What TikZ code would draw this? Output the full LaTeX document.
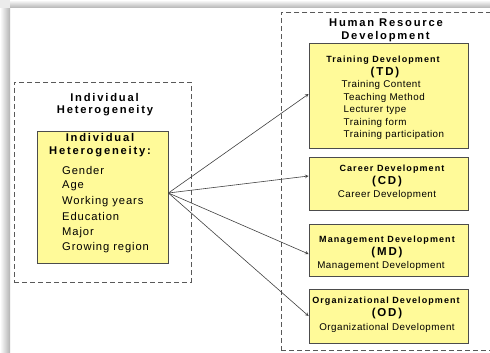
\documentclass[tikz,border=0pt]{standalone}
\usepackage{fontspec}
\setmainfont{Liberation Sans}
\newfontfamily\itemfont[LetterSpace=5]{Liberation Sans}
\newfontfamily\bigitemfont[LetterSpace=8]{Liberation Sans}
\newfontfamily\headfont[LetterSpace=12]{Liberation Sans}
\newfontfamily\titlefont[LetterSpace=16]{Liberation Sans}

\begin{document}
\begin{tikzpicture}[x=1pt, y=-1pt, >=stealth,
    dashbox/.style={draw=black!65, dash pattern=on 5pt off 3pt, line width=0.7pt, inner sep=0pt},
    ybox/.style={draw=black!70, fill=yellow!40, line width=0.8pt, inner sep=0pt},
    item/.style={anchor=west, inner sep=0pt, font=\itemfont\fontsize{9.8}{11}\selectfont},
    bigitem/.style={anchor=west, inner sep=0pt, font=\bigitemfont\fontsize{11.2}{13}\selectfont},
    head/.style={inner sep=0pt, font=\headfont\bfseries\fontsize{9}{11}\selectfont},
    abbr/.style={inner sep=0pt, font=\titlefont\bfseries\fontsize{11.5}{13}\selectfont},
    title/.style={inner sep=0pt, font=\titlefont\bfseries\fontsize{11.2}{13}\selectfont},
    link/.style={->, draw=black!75, line width=0.6pt}]
    \useasboundingbox (0,0) rectangle (490,353);

    % page shadow
    \shade[left color=white, right color=black!30] (0,8) rectangle (10,353);
    \shade[top color=white, bottom color=black!30] (10,0) rectangle (490,8);
    \fill[black!8] (0,0) rectangle (10,8);

    % Individual heterogeneity
    \node[dashbox, minimum width=177, minimum height=200] (ihbox) at (102.5,182) {};
    \node[title] (iht1) at (104.5,97) {Individual};
    \node[title] (iht2) at (105,111) {Heterogeneity};
    \node[ybox, minimum width=131, minimum height=132] (ih) at (102.5,197) {};
    \node[title] (ihh1) at (100,137.5) {Individual};
    \node[title] (ihh2) at (100,152) {Heterogeneity:};
    \foreach \t [count=\i] in {Gender, Age, Working years, Education, Major, Growing region}
        \node[bigitem] (ih\i) at (62,154.4+15.6*\i) {\t};

    % Human resource development
    \node[dashbox, minimum width=220, minimum height=338, anchor=north west] (hrd) at (281,12) {};
    \node[title] (hrdt1) at (386,23) {Human Resource};
    \node[title] (hrdt2) at (385.5,37) {Development};

    % TD
    \node[ybox, minimum width=159, minimum height=105] (td) at (388.5,95.5) {};
    \node[head] (tdh) at (383,60.5) {Training Development};
    \node[abbr] (tda) at (385,72.5) {(TD)};
    \node[item] (td1) at (341.5,85) {Training Content};
    \foreach \t [count=\i] in {Teaching Method, Lecturer type, Training form, Training participation}
        \node[item] (td\i) at (343.5,85+12.5*\i) {\t};

    % CD
    \node[ybox, minimum width=159, minimum height=53] (cd) at (388.5,183.5) {};
    \node[head] (cdh) at (392,169.5) {Career Development};
    \node[abbr] (cda) at (387,181.5) {(CD)};
    \node[item, anchor=center] (cdt) at (387,195) {Career Development};

    % MD
    \node[ybox, minimum width=159, minimum height=52] (md) at (388.5,250) {};
    \node[head] (mdh) at (387,240.5) {Management Development};
    \node[abbr] (mda) at (387,253) {(MD)};
    \node[item, anchor=center] (mdt) at (381,265.5) {Management Development};

    % OD
    \node[ybox, minimum width=159, minimum height=54] (od) at (388.5,316) {};
    \node[head] (odh) at (386,301.5) {Organizational Development};
    \node[abbr] (oda) at (387,314) {(OD)};
    \node[item, anchor=center] (odt) at (387,328) {Organizational Development};

    % links
    \coordinate (hub) at ([yshift=4pt]ih.east);
    \draw[link] (hub) -- ([yshift=1.5pt]td.west);
    \draw[link] (hub) -- ([yshift=7.5pt]cd.west);
    \draw[link] (hub) -- ([yshift=-4pt]md.west);
    \draw[link] (hub) -- (od.west);
\end{tikzpicture}
\end{document}
